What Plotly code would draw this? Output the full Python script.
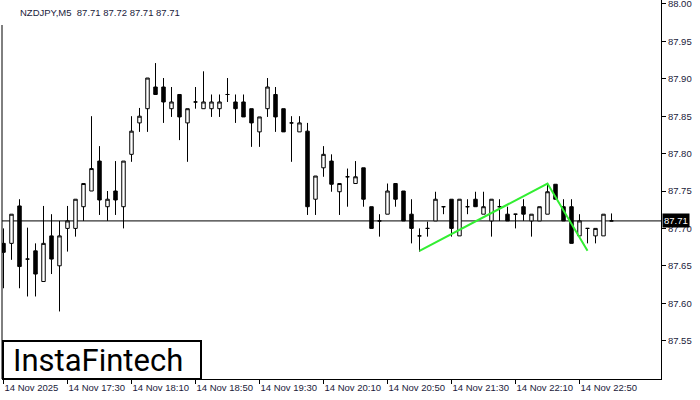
import plotly.graph_objects as go

# ---- data (NZDJPY M5, bar index 0 = 14 Nov 16:50) ----
opens = [87.680, 87.680, 87.730, 87.659, 87.670, 87.629, 87.690, 87.650, 87.700, 87.700,
         87.729, 87.750, 87.790, 87.729, 87.750, 87.729, 87.799, 87.841, 87.860, 87.889,
         87.889, 87.860, 87.879, 87.841, 87.869, 87.860, 87.860, 87.860, 87.879, 87.869,
         87.869, 87.860, 87.829, 87.860, 87.879, 87.860, 87.841, 87.829, 87.830, 87.739,
         87.781, 87.790, 87.749, 87.769, 87.760, 87.781, 87.729, 87.710, 87.719, 87.760,
         87.750, 87.719, 87.690, 87.700, 87.710, 87.729, 87.739, 87.690, 87.729, 87.739,
         87.719, 87.710, 87.729, 87.719, 87.719, 87.729, 87.710, 87.710, 87.719, 87.759,
         87.729, 87.729, 87.690, 87.700, 87.690, 87.690, 87.710]
highs = [87.700, 87.719, 87.739, 87.701, 87.680, 87.730, 87.719, 87.710, 87.730, 87.739,
         87.760, 87.850, 87.810, 87.750, 87.790, 87.790, 87.850, 87.861, 87.901, 87.921,
         87.901, 87.889, 87.879, 87.860, 87.889, 87.910, 87.879, 87.879, 87.901, 87.879,
         87.879, 87.860, 87.849, 87.901, 87.889, 87.860, 87.850, 87.850, 87.841, 87.770,
         87.810, 87.799, 87.760, 87.780, 87.790, 87.781, 87.729, 87.719, 87.760, 87.760,
         87.750, 87.739, 87.700, 87.709, 87.749, 87.729, 87.739, 87.739, 87.739, 87.749,
         87.749, 87.739, 87.739, 87.729, 87.719, 87.739, 87.719, 87.729, 87.759, 87.759,
         87.739, 87.739, 87.719, 87.700, 87.700, 87.719, 87.720]
lows = [87.620, 87.658, 87.620, 87.609, 87.609, 87.629, 87.639, 87.589, 87.669, 87.689,
        87.710, 87.750, 87.718, 87.710, 87.718, 87.700, 87.789, 87.829, 87.829, 87.879,
        87.841, 87.849, 87.818, 87.789, 87.860, 87.860, 87.849, 87.849, 87.869, 87.841,
        87.849, 87.809, 87.809, 87.849, 87.829, 87.829, 87.789, 87.829, 87.718, 87.718,
        87.769, 87.749, 87.718, 87.729, 87.760, 87.729, 87.700, 87.689, 87.719, 87.729,
        87.710, 87.680, 87.669, 87.689, 87.710, 87.719, 87.689, 87.690, 87.719, 87.729,
        87.719, 87.689, 87.710, 87.710, 87.700, 87.710, 87.689, 87.710, 87.719, 87.739,
        87.710, 87.680, 87.690, 87.680, 87.680, 87.690, 87.710]
closes = [87.668, 87.719, 87.649, 87.659, 87.639, 87.680, 87.659, 87.690, 87.710, 87.739,
          87.760, 87.780, 87.738, 87.739, 87.738, 87.790, 87.830, 87.850, 87.901, 87.879,
          87.869, 87.869, 87.849, 87.860, 87.869, 87.869, 87.869, 87.869, 87.879, 87.860,
          87.849, 87.841, 87.849, 87.889, 87.849, 87.829, 87.841, 87.841, 87.729, 87.770,
          87.799, 87.759, 87.760, 87.769, 87.769, 87.739, 87.700, 87.710, 87.750, 87.739,
          87.710, 87.700, 87.690, 87.700, 87.739, 87.729, 87.700, 87.739, 87.729, 87.729,
          87.729, 87.739, 87.729, 87.710, 87.719, 87.719, 87.719, 87.729, 87.749, 87.739,
          87.710, 87.680, 87.710, 87.700, 87.700, 87.719, 87.710]
bar_index = list(range(len(opens)))

x_tick_index = [0, 8, 16, 24, 32, 40, 48, 56, 64, 72]
x_tick_labels = ["14 Nov 2025", "14 Nov 17:30", "14 Nov 18:10", "14 Nov 18:50",
                 "14 Nov 19:30", "14 Nov 20:10", "14 Nov 20:50", "14 Nov 21:30",
                 "14 Nov 22:10", "14 Nov 22:50"]
y_ticks = [87.55, 87.60, 87.65, 87.70, 87.75, 87.80, 87.85, 87.90, 87.95, 88.00]

pattern_x = [52, 68, 73]
pattern_y = [87.670, 87.760, 87.670]

current_price = 87.71
title_text = "NZDJPY,M5  87.71 87.72 87.71 87.71"
logo_text = "InstaFintech"

# ---- figure ----
W, H = 700, 400
ML, MR, MT, MB = 2, 39, 0, 21
PW = W - ML - MR
PH = H - MT - MB
px_per_bar = 8.0
first_bar_px = 3.5
x_lo = -(first_bar_px - ML) / px_per_bar
x_hi = x_lo + PW / px_per_bar

TXT = "#1a1a3a"
FONT = "Liberation Sans, Arial, sans-serif"

fig = go.Figure()
fig.add_trace(go.Candlestick(
    x=bar_index, open=opens, high=highs, low=lows, close=closes,
    increasing=dict(line=dict(color="black", width=1), fillcolor="white"),
    decreasing=dict(line=dict(color="black", width=1), fillcolor="black"),
    whiskerwidth=0, showlegend=False, hoverinfo="skip",
))
fig.add_trace(go.Scatter(
    x=pattern_x, y=pattern_y, mode="lines",
    line=dict(color="#32ee32", width=2), showlegend=False, hoverinfo="skip",
))

def px_x(p):
    return (p - ML) / PW

def px_y(p):
    return (H - MB - p) / PH

shapes = [
    dict(type="line", xref="paper", yref="y", x0=0, x1=1, y0=current_price, y1=current_price,
         line=dict(color="black", width=1), layer="below"),
    dict(type="line", xref="paper", yref="paper", x0=0, x1=0, y0=0, y1=px_y(25),
         line=dict(color="black", width=1)),
    dict(type="rect", xref="paper", yref="paper", x0=px_x(3), x1=px_x(201),
         y0=px_y(379), y1=px_y(341), line=dict(color="black", width=2),
         fillcolor="white", layer="above"),
]

annotations = [
    dict(text=title_text, xref="paper", yref="paper", x=px_x(18), y=px_y(12),
         xanchor="left", yanchor="middle", showarrow=False,
         font=dict(family=FONT, size=9.5, color=TXT)),
    dict(text=logo_text, xref="paper", yref="paper", x=px_x(98), y=px_y(360),
         xanchor="center", yanchor="middle", showarrow=False,
         font=dict(family="Roboto, sans-serif", size=31, color="black")),
    dict(text="87.71", xref="paper", yref="y", x=1, y=current_price, xshift=1,
         xanchor="left", yanchor="middle", showarrow=False, bgcolor="black",
         borderpad=1, font=dict(family=FONT, size=9.5, color="white")),
]

fig.update_layout(
    width=W, height=H, margin=dict(l=ML, r=MR, t=MT, b=MB, autoexpand=False),
    paper_bgcolor="white", plot_bgcolor="white",
    boxgap=0.38,
    shapes=shapes, annotations=annotations,
    xaxis=dict(range=[x_lo, x_hi], rangeslider=dict(visible=False),
               tickmode="array", tickvals=x_tick_index, ticktext=x_tick_labels,
               ticks="outside", ticklen=4, tickcolor="black", tickwidth=1,
               ticklabelposition="outside right", tickangle=0, automargin=False,
               ticklabeloverflow="allow",
               showline=True, linecolor="black", linewidth=1,
               showgrid=False, zeroline=False,
               tickfont=dict(family=FONT, size=9.5, color=TXT)),
    yaxis=dict(range=[87.4987, 88.0053], side="right", automargin=False,
               tickmode="array", tickvals=y_ticks, tickformat=".2f",
               ticks="outside", ticklen=4, tickcolor="black", tickwidth=1,
               ticklabeloverflow="allow",
               showline=True, linecolor="black", linewidth=1,
               showgrid=False, zeroline=False,
               tickfont=dict(family=FONT, size=9.5, color=TXT)),
)

fig.write_html("out.html", config={"displayModeBar": False},
               post_script="document.body.style.margin='0';")
